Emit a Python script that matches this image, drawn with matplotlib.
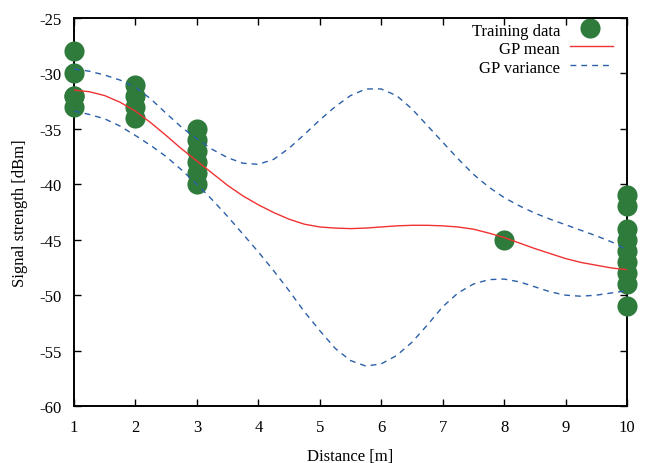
import matplotlib
matplotlib.use("Agg")
import matplotlib.pyplot as plt
from matplotlib.lines import Line2D

plt.rcParams['font.family'] = ['Liberation Serif', 'DejaVu Serif']

# Training data
train_x = [1, 1, 1, 1, 1,
           2, 2, 2, 2,
           3, 3, 3, 3, 3, 3,
           8,
           10, 10, 10, 10, 10, 10, 10, 10, 10]
train_y = [-28, -30, -32, -32, -33,
           -31, -32, -33, -34,
           -35, -36, -37, -38, -39, -40,
           -45,
           -41, -42, -44, -45, -46, -47, -48, -49, -51]

# GP curves
gp_x = [1.0, 1.25, 1.5, 1.75, 2.0, 2.25, 2.5, 2.75, 3.0, 3.25, 3.5, 3.75,
        4.0, 4.25, 4.5, 4.75, 5.0, 5.25, 5.5, 5.75, 6.0, 6.25, 6.5, 6.75,
        7.0, 7.25, 7.5, 7.75, 8.0, 8.25, 8.5, 8.75, 9.0, 9.25, 9.5, 9.75, 10.0]
gp_mean = [-31.5, -31.65, -32.0, -32.6, -33.4, -34.45, -35.6, -36.8, -37.9, -39.0, -40.1, -41.05,
           -41.85, -42.55, -43.15, -43.6, -43.85, -43.95, -44.0, -43.95, -43.85, -43.75, -43.7, -43.7,
           -43.75, -43.85, -44.05, -44.4, -44.8, -45.3, -45.8, -46.25, -46.7, -47.05, -47.3, -47.55, -47.7]
gp_upper = [-29.6, -29.8, -30.15, -30.6, -31.25, -32.3, -33.6, -34.85, -35.9, -36.85, -37.6, -38.1,
            -38.2, -37.75, -36.75, -35.5, -34.2, -33.0, -32.0, -31.4, -31.4, -32.0, -33.2, -34.7,
            -36.2, -37.7, -39.1, -40.25, -41.2, -41.95, -42.6, -43.15, -43.65, -44.15, -44.65, -45.2, -45.9]
gp_lower = [-33.4, -33.7, -34.1, -34.75, -35.6, -36.5, -37.5, -38.7, -40.0, -41.4, -42.9, -44.5,
            -46.1, -47.8, -49.6, -51.5, -53.2, -54.8, -55.9, -56.4, -56.2, -55.45, -54.25, -52.7,
            -51.05, -49.8, -49.0, -48.6, -48.55, -48.8, -49.25, -49.7, -50.0, -50.1, -50.0, -49.8, -49.6]

x_ticks = [1, 2, 3, 4, 5, 6, 7, 8, 9, 10]
y_ticks = [-60, -55, -50, -45, -40, -35, -30, -25]

green = '#2e7b3c'
red = '#f03232'
blue = '#2b5fa8'

fig = plt.figure(figsize=(6.46, 4.64), dpi=100)
ax = fig.add_axes([74/646, 1-407/464, (627-74)/646, (407-19)/464])

ax.plot(train_x, train_y, 'o', color=green, markersize=14.5, markeredgewidth=0,
        clip_on=False, zorder=3)
ax.plot(gp_x, gp_mean, '-', color=red, lw=1.0, zorder=4)
ax.plot(gp_x, gp_upper, color=blue, lw=1.0, dashes=(4.2, 3.6), zorder=4)
ax.plot(gp_x, gp_lower, color=blue, lw=1.0, dashes=(4.2, 3.6), zorder=4)

ax.set_xlim(1, 10)
ax.set_ylim(-60, -25)
ax.set_xticks(x_ticks)
ax.set_yticks(y_ticks)
ax.set_xticklabels([str(v) for v in x_ticks])
ax.set_yticklabels([str(v) for v in y_ticks])
ax.tick_params(direction='in', length=5, width=1, top=True, right=True,
               labelsize=12, pad=9)
for s in ax.spines.values():
    s.set_linewidth(1.4)

ax.set_xlabel('Distance [m]', fontsize=12, labelpad=10)
ax.set_ylabel('Signal strength [dBm]', fontsize=12, labelpad=8)

# manual gnuplot-style legend (axes fraction coordinates)
def fx(px):
    return (px - 74) / (627 - 74)

def fy(py):
    return (407 - py) / (407 - 19)

labels = ['Training data', 'GP mean', 'GP variance']
rows = [31, 49, 68]
for lab, r in zip(labels, rows):
    ax.text(fx(560), fy(r + 1), lab, transform=ax.transAxes, ha='right', va='center',
            fontsize=12)
ax.add_line(Line2D([fx(590)], [fy(rows[0] - 2)], marker='o', color=green, markersize=14.5,
                   markeredgewidth=0, transform=ax.transAxes))
ax.add_line(Line2D([fx(570), fx(613)], [fy(rows[1] - 2)] * 2, color=red, lw=1.0,
                   transform=ax.transAxes))
ax.add_line(Line2D([fx(570), fx(613)], [fy(rows[2] - 2)] * 2, color=blue, lw=1.0,
                   dashes=(4.2, 3.6), transform=ax.transAxes))

fig.savefig('out.png', dpi=100)
